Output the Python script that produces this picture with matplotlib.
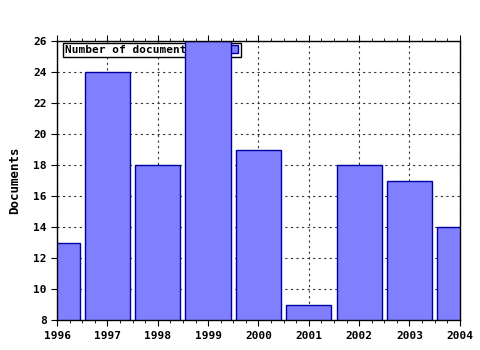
import matplotlib.pyplot as plt
from matplotlib.lines import Line2D
from matplotlib.ticker import MultipleLocator

# Data
years = [1996, 1997, 1998, 1999, 2000, 2001, 2002, 2003, 2004]
documents = [13, 24, 18, 26, 19, 9, 18, 17, 14]

plt.rcParams['font.family'] = 'DejaVu Sans Mono'
plt.rcParams['font.weight'] = 'bold'
plt.rcParams['font.size'] = 8

fig = plt.figure(figsize=(4.8, 3.5), dpi=100)
ax = fig.add_axes([0.119, 0.0857, 0.839, 0.797])

ax.bar(years, documents, width=0.9, bottom=0,
       color='#8080ff', edgecolor='#0000a0', linewidth=1.0, zorder=3)

ax.set_xlim(1996, 2004)
ax.set_ylim(8, 26)
ax.set_xticks(years)
ax.xaxis.set_minor_locator(MultipleLocator(0.25))
ax.set_yticks(range(8, 27, 2))
ax.tick_params(axis='x', which='both', top=True, direction='out', pad=4)
ax.tick_params(axis='x', which='major', length=4)
ax.tick_params(axis='x', which='minor', length=2)
ax.tick_params(axis='y', length=4, direction='out')
ax.grid(True, linestyle=(0, (2, 3)), color='#333333', linewidth=0.8, zorder=0)
for s in ax.spines.values():
    s.set_linewidth(1.0)
    s.set_zorder(4)

ax.set_ylabel('Documents', fontweight='bold', fontsize=9, labelpad=9)

handle = Line2D([], [], marker='s', linestyle='none', markersize=6,
                markerfacecolor='#8080ff', markeredgecolor='#0000a0')
leg = ax.legend([handle], ['Number of documents'], loc='upper left',
                bbox_to_anchor=(0.015, 0.993), markerfirst=False, fancybox=False,
                framealpha=1, edgecolor='black', borderpad=0.2, handletextpad=3.1,
                handlelength=1.0, borderaxespad=0, prop={'weight': 'bold', 'size': 8})
leg.get_frame().set_linewidth(1.0)
leg.set_zorder(2)

fig.savefig('out.png', dpi=100)
